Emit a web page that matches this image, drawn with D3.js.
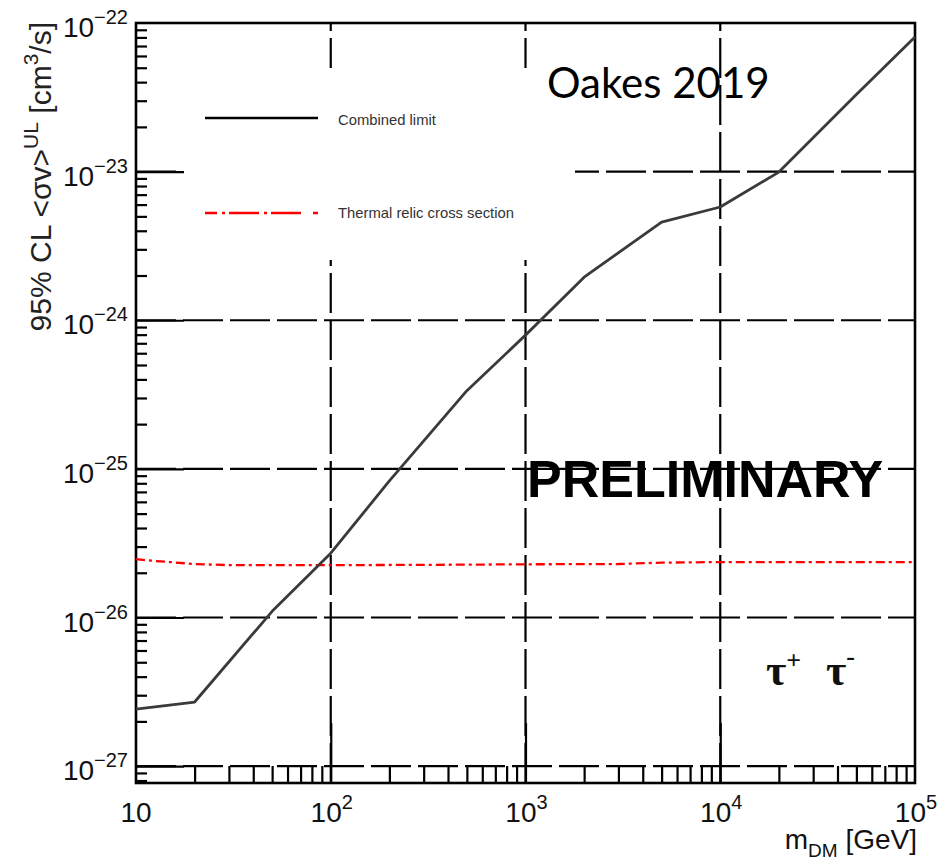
<!DOCTYPE html>
<html lang="en">
<head>
    <meta charset="UTF-8">
    <title>Combined limit tau+ tau-</title>
    <script src="https://d3js.org/d3.v7.min.js"></script>
    <style>
        body {
            margin: 0;
            background: #fff;
        }
        svg {
            display: block;
            font-family: "Liberation Sans", Arial, sans-serif;
        }
        .grid {
            stroke: #000;
            stroke-width: 2.2px;
            stroke-dasharray: 40, 7;
        }
        .tick-label {
            fill: #111;
        }
    </style>
</head>
<body>
    <svg id="chart"></svg>

    <script>
        // Combined limit (black curve)
        const limitMass = [10, 20, 50, 100, 200, 500, 1000, 2000, 5000, 10000, 20000, 50000, 100000];
        const limitSigmaV = [2.42e-27, 2.70e-27, 1.10e-26, 2.71e-26, 8.3e-26, 3.36e-25, 7.94e-25,
                             1.95e-24, 4.58e-24, 5.78e-24, 9.93e-24, 3.3e-23, 8.05e-23];

        // Thermal relic cross section (red dash-dot)
        const relicMass = [10, 12, 15, 20, 30, 50, 100, 300, 1000, 3000, 5000, 10000, 100000];
        const relicSigmaV = [2.47e-26, 2.41e-26, 2.36e-26, 2.29e-26, 2.25e-26, 2.25e-26, 2.25e-26,
                             2.26e-26, 2.28e-26, 2.29e-26, 2.34e-26, 2.36e-26, 2.36e-26];

        // Axis decades
        const xDecades = [1, 2, 3, 4, 5];
        const yDecades = [-22, -23, -24, -25, -26, -27];

        const legendNames = ["Combined limit", "Thermal relic cross section"];

        const width = 941;
        const height = 860;
        const plotLeft = 136, plotRight = 915, plotTop = 23, plotBottom = 783;

        const svg = d3.select("#chart")
            .attr("width", width)
            .attr("height", height);

        const x = d3.scaleLog().domain([10, 1e5]).range([plotLeft, plotRight]);
        const y = d3.scaleLog().domain([7.7e-28, 1e-22]).range([plotBottom, plotTop]);

        // minor tick values (2..9 in each decade)
        const minorX = [];
        for (let d = 1; d < 5; d++) {
            for (let m = 2; m <= 9; m++) minorX.push(m * Math.pow(10, d));
        }
        const minorY = [];
        for (let d = -28; d < -22; d++) {
            for (let m = 2; m <= 9; m++) {
                const v = m * Math.pow(10, d);
                if (v >= 7.7e-28 && v < 1e-22) minorY.push(v);
            }
        }

        // Dashed grid at each decade
        svg.append("g")
            .selectAll("line")
            .data(yDecades.slice(1))
            .enter().append("line")
            .attr("class", "grid")
            .attr("x1", plotLeft).attr("x2", plotRight)
            .attr("y1", d => y(Math.pow(10, d)))
            .attr("y2", d => y(Math.pow(10, d)));

        svg.append("g")
            .selectAll("line")
            .data([2, 3, 4])
            .enter().append("line")
            .attr("class", "grid")
            .attr("y1", plotBottom).attr("y2", plotTop)
            .attr("x1", d => x(Math.pow(10, d)))
            .attr("x2", d => x(Math.pow(10, d)));

        // Legend background hides the grid behind it
        svg.append("rect")
            .attr("x", 183).attr("y", 68)
            .attr("width", 392).attr("height", 192)
            .attr("fill", "#fff");

        // Minor and major ticks via d3 axes
        const tickStyle = g => {
            g.select(".domain").remove();
            g.selectAll(".tick line").attr("stroke", "#000").attr("stroke-width", 2.2);
        };

        svg.append("g")
            .attr("transform", `translate(${plotLeft},0)`)
            .call(d3.axisLeft(y).tickValues(minorY).tickSize(-11).tickFormat(""))
            .call(tickStyle);

        svg.append("g")
            .attr("transform", `translate(${plotLeft},0)`)
            .call(d3.axisLeft(y).tickValues(yDecades.slice(1).map(d => Math.pow(10, d))).tickSize(-48).tickFormat(""))
            .call(tickStyle);

        svg.append("g")
            .attr("transform", `translate(0,${plotBottom})`)
            .call(d3.axisBottom(x).tickValues(minorX).tickSize(-17).tickFormat(""))
            .call(tickStyle);

        svg.append("g")
            .attr("transform", `translate(0,${plotBottom})`)
            .call(d3.axisBottom(x).tickValues([100, 1000, 10000]).tickSize(-60).tickFormat(""))
            .call(tickStyle);

        // Frame
        svg.append("rect")
            .attr("x", plotLeft).attr("y", plotTop)
            .attr("width", plotRight - plotLeft).attr("height", plotBottom - plotTop)
            .attr("fill", "none")
            .attr("stroke", "#000")
            .attr("stroke-width", 2.6);

        // Y tick labels 10^-n
        const yLab = svg.append("g")
            .selectAll("text")
            .data(yDecades)
            .enter().append("text")
            .attr("class", "tick-label")
            .attr("x", 128)
            .attr("y", d => y(Math.pow(10, d)) + 14)
            .attr("text-anchor", "end");
        yLab.append("tspan").attr("font-size", 28).text("10");
        yLab.append("tspan").attr("font-size", 20).attr("dy", -13).text(d => "\u2212" + (-d));

        // X tick labels
        const xLab = svg.append("g")
            .selectAll("text")
            .data(xDecades)
            .enter().append("text")
            .attr("class", "tick-label")
            .attr("x", d => x(Math.pow(10, d)) + (d === 1 ? 0 : 1))
            .attr("y", 822)
            .attr("text-anchor", "middle");
        xLab.append("tspan").attr("font-size", 28).text("10");
        xLab.filter(d => d > 1).append("tspan")
            .attr("font-size", 20).attr("dy", -13).text(d => d);

        // Axis titles
        const xt = svg.append("text")
            .attr("x", 917).attr("y", 849)
            .attr("text-anchor", "end")
            .attr("fill", "#111")
            .attr("font-size", 28);
        xt.append("tspan").text("m");
        xt.append("tspan").attr("font-size", 19).attr("dy", 8).text("DM");
        xt.append("tspan").attr("dy", -8).text(" [GeV]");

        const yt = svg.append("text")
            .attr("transform", "translate(51,22) rotate(-90)")
            .attr("text-anchor", "end")
            .attr("fill", "#222")
            .attr("font-size", 30);
        yt.append("tspan").text("95% CL <\u03c3v>");
        yt.append("tspan").attr("font-size", 21).attr("dy", -13).text("UL");
        yt.append("tspan").attr("dy", 13).text(" [cm");
        yt.append("tspan").attr("font-size", 21).attr("dy", -13).text("3");
        yt.append("tspan").attr("dy", 13).text("/s]");

        // Curves
        const line = d3.line()
            .x(d => x(d[0]))
            .y(d => y(d[1]));

        svg.append("path")
            .datum(d3.zip(relicMass, relicSigmaV))
            .attr("d", line)
            .attr("fill", "none")
            .attr("stroke", "#f00")
            .attr("stroke-width", 2.3)
            .attr("stroke-dasharray", "9,4,3,4");

        svg.append("path")
            .datum(d3.zip(limitMass, limitSigmaV))
            .attr("d", line)
            .attr("fill", "none")
            .attr("stroke", "#3a3a3a")
            .attr("stroke-width", 2.8)
            .attr("stroke-linejoin", "round");

        // Legend
        const legend = svg.append("g");
        legend.append("line")
            .attr("x1", 205).attr("x2", 318).attr("y1", 118).attr("y2", 118)
            .attr("stroke", "#000").attr("stroke-width", 2.4);
        legend.append("line")
            .attr("x1", 205).attr("x2", 318).attr("y1", 213).attr("y2", 213)
            .attr("stroke", "#f00").attr("stroke-width", 2.4)
            .attr("stroke-dasharray", "12,5,3,4,30,5,3,4,30");
        legend.selectAll(".legend-text")
            .data(legendNames)
            .enter().append("text")
            .attr("class", "legend-text")
            .attr("x", 338)
            .attr("y", (d, i) => i === 0 ? 125 : 218)
            .attr("font-size", 14.8)
            .attr("fill", "#333")
            .text(d => d);

        // Annotations
        svg.append("text")
            .attr("x", 547).attr("y", 98)
            .attr("font-family", "Lato, 'Open Sans', sans-serif")
            .attr("font-size", 42)
            .attr("fill", "#000")
            .text("Oakes 2019");

        svg.append("text")
            .attr("x", 527).attr("y", 497)
            .attr("font-size", 52)
            .attr("font-weight", "bold")
            .attr("fill", "#000")
            .text("PRELIMINARY");

        const tau = svg.append("text")
            .attr("x", 766).attr("y", 685)
            .attr("font-family", "'Liberation Serif', serif")
            .attr("font-size", 44)
            .attr("font-weight", "bold")
            .attr("fill", "#111");
        tau.append("tspan").text("\u03c4");
        tau.append("tspan").attr("font-size", 26).attr("dy", -16).text("+");
        tau.append("tspan").attr("x", 826).attr("dy", 16).text("\u03c4");
        tau.append("tspan").attr("font-size", 26).attr("dy", -20).text("-");
    </script>
</body>
</html>
